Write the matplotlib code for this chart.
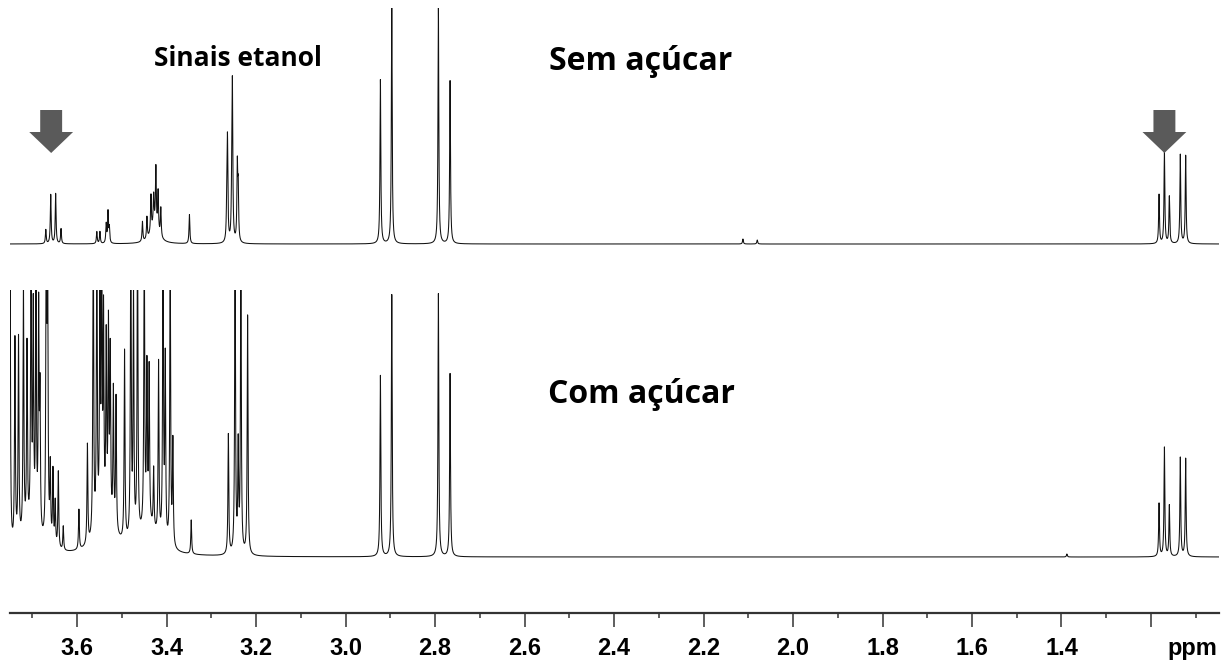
import numpy as np
import matplotlib
matplotlib.use('Agg')
import matplotlib.pyplot as plt
from matplotlib.patches import Polygon
from matplotlib.ticker import FixedLocator, MultipleLocator

# 1H NMR lines (ppm, intensity) for the two samples
top_ppm    = [3.670, 3.659, 3.648, 3.636,
              3.556, 3.549, 3.535, 3.531, 3.528,
              3.454, 3.444, 3.435, 3.429, 3.424, 3.419, 3.413,
              3.349,
              3.2655, 3.2640, 3.2545, 3.2530, 3.2420, 3.2400,
              2.9222, 2.8968, 2.7926, 2.7665,
              2.112, 2.080,
              1.182, 1.170, 1.159, 1.1345, 1.1225]
top_height = [14, 49, 50, 15,
              12, 12, 19, 31, 15,
              20, 22, 37, 30, 59, 40, 29,
              29,
              30, 99, 39, 152, 74, 50,
              164, 237, 236, 163,
              5, 4,
              49, 92, 47, 89, 88]
# broad sugar hump under the 3.42 multiplet
top_broad_ppm    = [3.427]
top_broad_height = [18]

bot_ppm    = [3.750, 3.739, 3.731, 3.720, 3.712, 3.703, 3.698, 3.692, 3.686, 3.683,
              3.669, 3.666, 3.660, 3.654, 3.649, 3.642, 3.631,
              3.596, 3.577,
              3.564, 3.556, 3.549, 3.545, 3.541, 3.535, 3.530, 3.526, 3.519, 3.513,
              3.494, 3.480, 3.474, 3.465, 3.450, 3.444, 3.439, 3.429, 3.418, 3.408,
              3.403, 3.392, 3.386,
              3.345,
              3.262, 3.247, 3.240, 3.234, 3.219,
              2.9222, 2.8968, 2.7926, 2.7665,
              1.388,
              1.182, 1.170, 1.159, 1.1345, 1.1225]
bot_height = [320, 204, 202, 250, 184, 300, 214, 257, 219, 134,
              330, 300, 74, 74, 44, 77, 24,
              40, 100,
              320, 300, 244, 240, 200, 177, 190, 167, 137, 134,
              190, 330, 244, 320, 300, 154, 154, 60, 174, 310,
              180, 300, 104,
              34,
              120, 320, 104, 300, 239,
              181, 262, 263, 183,
              3,
              53, 109, 51, 99, 98]
# overlapping sugar envelope underneath the crowded region
bot_broad_ppm    = [3.705, 3.535, 3.440]
bot_broad_height = [22, 28, 26]

tick_values = [3.6, 3.4, 3.2, 3.0, 2.8, 2.6, 2.4, 2.2, 2.0, 1.8, 1.6, 1.4, 1.2]
tick_labels = ['3.6', '3.4', '3.2', '3.0', '2.8', '2.6', '2.4', '2.2', '2.0',
               '1.8', '1.6', '1.4', '']

arrow_ppm = [3.658, 1.170]

W, H = 1232, 661
x_lo, x_hi = 3.75, 1.048


def spectrum(ppm, lines, heights, hwhm):
  y = np.zeros_like(ppm)
  for p, h in zip(lines, heights):
    y += h / (1.0 + ((ppm - p) / hwhm) ** 2)
  return y


def px_axes(fig, top, bottom):
  return fig.add_axes([10 / W, 1 - bottom / H, 1209 / W, (bottom - top) / H])


def bare(ax):
  ax.set_xlim(x_lo, x_hi)
  ax.axis('off')


def draw_arrow(ax, x0):
  half_head, half_shaft = 0.049, 0.0245
  y_top, y_neck, y_tip = 134, 112, 91
  pts = [(x0 - half_shaft, y_top), (x0 + half_shaft, y_top),
         (x0 + half_shaft, y_neck), (x0 + half_head, y_neck),
         (x0, y_tip), (x0 - half_head, y_neck), (x0 - half_shaft, y_neck)]
  ax.add_patch(Polygon(pts, closed=True, color='#5a5a5a', lw=0, clip_on=False, zorder=3))


def plot_nmr():
  fig = plt.figure(figsize=(W / 100, H / 100), dpi=100)
  ppm = np.linspace(3.76, 1.04, 80000)

  y_top = spectrum(ppm, top_ppm, top_height, 0.0011)
  y_top += spectrum(ppm, top_broad_ppm, top_broad_height, 0.010)
  y_bot = spectrum(ppm, bot_ppm, bot_height, 0.0011)
  y_bot += spectrum(ppm, bot_broad_ppm, bot_broad_height, 0.025)

  ax_top = px_axes(fig, 8, 250)
  ax_top.plot(ppm, y_top, color='#111111', lw=0.75)
  ax_top.set_ylim(-6, 236)
  bare(ax_top)
  for a in arrow_ppm:
    draw_arrow(ax_top, a)

  ax_bot = px_axes(fig, 290, 566)
  ax_bot.plot(ppm, y_bot, color='#111111', lw=0.75)
  ax_bot.set_ylim(-9, 267)
  bare(ax_bot)

  # ppm scale
  ax = fig.add_axes([10 / W, 1 - 613 / H, 1209 / W, 0.0005])
  ax.set_xlim(x_lo, x_hi)
  ax.set_yticks([])
  for s in ['top', 'left', 'right']:
    ax.spines[s].set_visible(False)
  ax.spines['bottom'].set_color('#333333')
  ax.spines['bottom'].set_linewidth(1.6)
  ax.xaxis.set_major_locator(FixedLocator(tick_values))
  ax.set_xticklabels(tick_labels, fontfamily='Liberation Sans', fontweight='bold', fontsize=17)
  ax.xaxis.set_minor_locator(MultipleLocator(0.1))
  ax.tick_params(axis='x', which='major', length=10, width=1.1, color='#333333', pad=7)
  ax.tick_params(axis='x', which='minor', length=3.6, width=1.1, color='#333333')
  ax.patch.set_visible(False)

  fig.text(1192 / W, 1 - 648 / H, 'ppm', ha='center', va='center',
           fontfamily='Liberation Sans', fontweight='bold', fontsize=17)

  fig.text(238 / W, 1 - 58 / H, 'Sinais etanol', ha='center', va='center',
           fontfamily='Open Sans', fontweight='bold', fontsize=19)
  fig.text(641 / W, 1 - 61 / H, 'Sem açúcar', ha='center', va='center',
           fontfamily='Open Sans', fontweight='bold', fontsize=23)
  fig.text(641 / W, 1 - 394 / H, 'Com açúcar', ha='center', va='center',
           fontfamily='Open Sans', fontweight='bold', fontsize=23)

  fig.savefig('out.png', dpi=100)


if __name__ == '__main__':
  plot_nmr()
